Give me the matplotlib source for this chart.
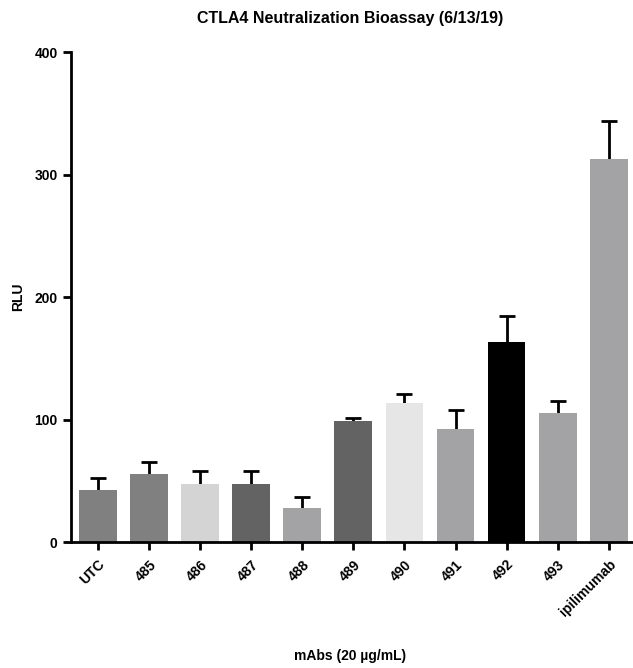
import matplotlib
matplotlib.use("Agg")
import matplotlib.pyplot as plt
import numpy as np

categories = ["UTC", "485", "486", "487", "488", "489", "490", "491", "492", "493", "ipilimumab"]
means = [42.4, 55.5, 47.3, 47.3, 27.5, 98.5, 113.7, 92.2, 163.5, 105.3, 312.6]
errors = [9.6, 9.5, 10.7, 10.7, 9.0, 2.5, 7.1, 15.5, 21.2, 9.7, 31.1]
colors = ["#808080", "#808080", "#d4d4d4", "#636363", "#a3a3a6", "#636363",
          "#e6e6e6", "#a3a3a6", "#000000", "#a3a3a6", "#a3a3a6"]
yticks = [0, 100, 200, 300, 400]

plt.rcParams['font.family'] = ['Liberation Sans', 'DejaVu Sans']
plt.rcParams['font.weight'] = 'bold'

fig = plt.figure(figsize=(6.33, 6.68), dpi=100)
ax = fig.add_axes([0.112, 0.1886, 0.886, 0.7334])

x = np.arange(len(categories))
ax.bar(x, means, width=0.74, color=colors, zorder=2)
ax.errorbar(x, means, yerr=errors, fmt='none',
            ecolor='black', elinewidth=2, capsize=6, capthick=2, zorder=1)

ax.set_xlim(-0.53, 10.45)
ax.set_ylim(0, 400)
ax.set_yticks(yticks)
ax.set_xticks(x)
ax.set_xticklabels(categories, rotation=45, ha='right', rotation_mode='anchor',
                   fontsize=10, fontweight='bold')
for lab in ax.get_yticklabels():
    lab.set_fontsize(10)
    lab.set_fontweight('bold')

for s in ['top', 'right']:
    ax.spines[s].set_visible(False)
for s in ['left', 'bottom']:
    ax.spines[s].set_linewidth(2)
ax.tick_params(axis='both', direction='out', length=6, width=2)
ax.tick_params(axis='x', pad=5)

fig.text(18 / 633, 1 - 297 / 668, "RLU", rotation=90, ha='center', va='center',
         fontsize=10, fontweight='bold')
fig.text(350 / 633, 1 - 656 / 668, "mAbs (20 µg/mL)", ha='center', va='center',
         fontsize=10, fontweight='bold')
fig.text(350 / 633, 1 - 18 / 668, "CTLA4 Neutralization Bioassay (6/13/19)", ha='center', va='center',
         fontsize=11.5, fontweight='bold')

fig.savefig("out.png", dpi=100)
